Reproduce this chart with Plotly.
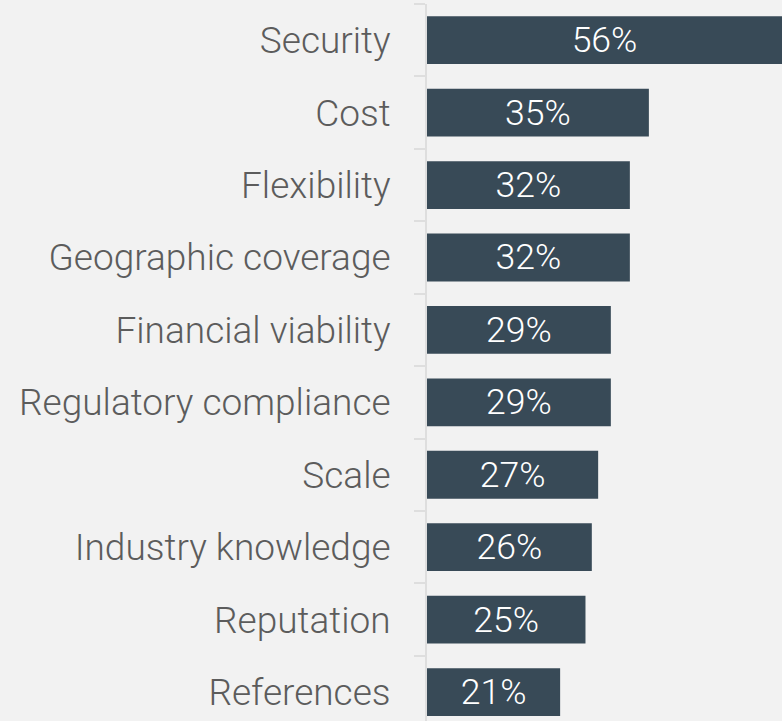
import plotly.graph_objects as go

categories = ['Security', 'Cost', 'Flexibility', 'Geographic coverage', 'Financial viability',
              'Regulatory compliance', 'Scale', 'Industry knowledge', 'Reputation', 'References']
values = [56, 35, 32, 32, 29, 29, 27, 26, 25, 21]
labels = [f'{v}%' for v in values]

fig = go.Figure(go.Bar(
    x=values,
    y=categories,
    orientation='h',
    text=labels,
    textposition='inside',
    insidetextanchor='middle',
    textangle=0,
    textfont=dict(color='white', size=40, family='Roboto', weight=300),
    marker=dict(color='#384a57', line=dict(width=0)),
    width=0.66,
    hoverinfo='skip',
))

fig.update_layout(
    width=782,
    height=721,
    margin=dict(l=427, r=0, t=4, b=0),
    paper_bgcolor='#f2f2f2',
    plot_bgcolor='#f2f2f2',
    font=dict(family='Roboto', weight=300, color='#5c5c5c', size=37),
    showlegend=False,
    uniformtext=dict(minsize=30, mode='show'),
)
fig.update_xaxes(range=[0, 56], visible=False, fixedrange=True)
fig.update_yaxes(
    categoryorder='array',
    categoryarray=categories,
    range=[9.4, -0.5],
    showline=True,
    linecolor='#dedede',
    linewidth=2,
    ticks='outside',
    tickson='boundaries',
    ticklen=11,
    tickcolor='#dedede',
    tickwidth=2,
    ticklabelstandoff=27,
    tickfont=dict(size=37, color='#5c5c5c'),
    showgrid=False,
    fixedrange=True,
)

fig.write_html(
    'out.html',
    config={'displayModeBar': False},
    post_script="document.body.style.margin='0';document.body.style.background='#f2f2f2';",
)
